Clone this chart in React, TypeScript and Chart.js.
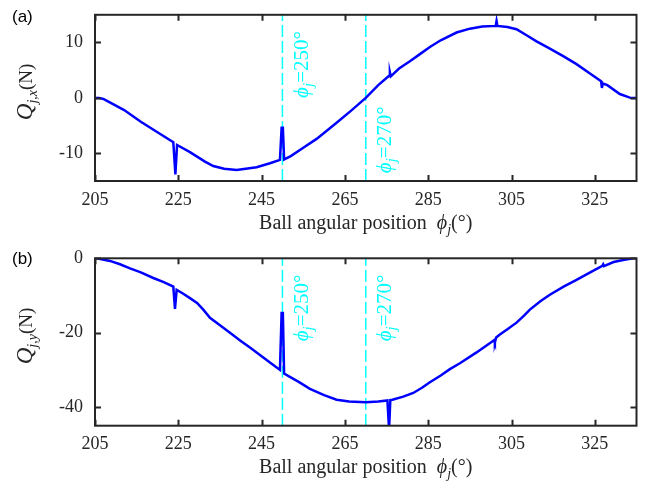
import React, { useEffect, useRef } from "react";
import { Chart, registerables } from "chart.js";

Chart.register(...registerables);

// ---------- data ----------
const xTicks = [205, 225, 245, 265, 285, 305, 325];
const xRange = [205, 335];

const phiX = [
  205, 206, 207, 209, 212, 216, 220, 223.8, 224.3, 224.7, 227.8, 231.4, 233.4, 236, 239, 243.8, 247, 249.4,
  249.8, 250.1, 250.4, 252, 255, 258.2, 263, 266.5, 270, 273, 275.6, 275.8, 276.0, 278, 280.6, 283, 285.4,
  288, 291.8, 295, 298, 301.2, 301.4, 301.6, 304, 306.2, 308.6, 311, 314.2, 317.5, 320.6, 324, 326.5, 326.7,
  326.9, 328, 331, 333.4, 334, 335,
];
const qx = [
  0, 0, -0.2, -1.0, -2.2, -4.3, -6.2, -8.0, -13.8, -8.5, -9.8, -11.5, -12.3, -12.8, -13.0, -12.5, -11.8, -11.2,
  -5.4, -5.4, -11.1, -10.5, -9.0, -7.4, -4.5, -2.3, 0, 2.3, 4.0, 4.6, 3.9, 5.3, 6.6, 7.9, 9.2,
  10.4, 11.8, 12.5, 12.9, 13.0, 13.9, 13.0, 12.8, 12.4, 11.3, 10.2, 8.9, 7.5, 6.1, 4.3, 3.0, 1.8,
  2.6, 2.3, 0.7, 0.05, 0, 0,
];
const qxTicks = [-10, 0, 10];
const qxRange = [-15, 15];

const phiY = [
  205, 206, 208.6, 211, 213.4, 216, 219, 221.5, 223.8, 224.2, 224.6, 226, 227.8, 229.5, 231, 232.6, 235, 237.4,
  240, 242.2, 245, 247, 249.4, 249.8, 250.1, 250.4, 252, 254, 256.6, 260, 263, 266, 270, 273, 275.2, 275.6,
  275.9, 276.4, 279, 281.4, 283.5, 285.4, 288, 290.2, 292.6, 296.6, 300.8, 301.0, 301.3, 302.2, 304, 306.2,
  308, 309.4, 312, 314.2, 317.5, 320.6, 324, 326.8, 327.0, 327.2, 329.5, 331.8, 334.2, 335,
];
const qy = [
  0, -0.1, -0.7, -1.6, -2.7, -3.8, -5.3, -6.4, -7.6, -13.6, -8.5, -9.4, -10.7, -12.0, -13.8, -16.0, -18.0, -20.0,
  -22.2, -24.0, -26.3, -28.0, -30.0, -14.7, -14.7, -31.0, -32.0, -33.3, -35.1, -36.8, -38.0, -38.5, -38.7, -38.5, -38.2, -46,
  -38.1, -38.0, -37.2, -36.2, -34.8, -33.3, -31.5, -29.8, -28.2, -25.3, -22.0, -22.7, -21.3, -20.5, -19.1, -17.3,
  -15.4, -13.8, -11.5, -9.8, -7.6, -5.8, -3.7, -2.0, -1.6, -2.1, -1.0, -0.45, 0, 0,
];
const qyTicks = [-40, -20, 0];
const qyRange = [-45, 0];

const markerPhi = [250, 270];
const markerText = ["=250°", "=270°"];
const labelAnchorQx = [0, -13.6];
const labelAnchorQy = [-22.3, -22.3];

// ---------- style ----------
const SERIF = "'Liberation Serif', 'Times New Roman', serif";
const SANS = "'Liberation Sans', Arial, sans-serif";
const AXIS = "#262626";
const CYAN = "#00FFFF";

type Part = { t: string; font: string; dy?: number };

function drawRich(ctx: CanvasRenderingContext2D, parts: Part[], x: number, y: number, center: boolean) {
  let total = 0;
  const ws = parts.map((p) => {
    ctx.font = p.font;
    const w = ctx.measureText(p.t).width;
    total += w;
    return w;
  });
  let cx = center ? x - total / 2 : x;
  parts.forEach((p, i) => {
    ctx.font = p.font;
    ctx.fillText(p.t, cx, y + (p.dy || 0));
    cx += ws[i];
  });
}

function makeConfig(o: {
  px: number[];
  vals: number[];
  yr: number[];
  yt: number[];
  sub: string;
  panel: string;
  anchors: number[];
  topPad: number;
  xAxisH: number;
}) {
  const data = o.px.map((x, i) => ({ x, y: o.vals[i] }));
  const markerSets = markerPhi.map((m) => ({
    data: [
      { x: m, y: o.yr[0] },
      { x: m, y: o.yr[1] },
    ],
    borderColor: CYAN,
    borderWidth: 1.5,
    borderDash: [12, 4],
    pointRadius: 0,
    fill: false,
  }));

  const decor = {
    id: "decor",
    beforeDatasetsDraw(chart: any) {
      const { ctx, scales } = chart;
      const xs = scales.x;
      const ys = scales.y;
      ctx.save();
      ctx.fillStyle = CYAN;
      ctx.textBaseline = "alphabetic";
      ctx.textAlign = "left";
      markerPhi.forEach((m, i) => {
        const px = xs.getPixelForValue(m) + 25.5;
        const py = ys.getPixelForValue(o.anchors[i]);
        ctx.save();
        ctx.translate(px, py);
        ctx.rotate(-Math.PI / 2);
        drawRich(
          ctx,
          [
            { t: "ϕ", font: `italic 21px ${SERIF}` },
            { t: "j", font: `italic 15px ${SERIF}`, dy: 5 },
            { t: markerText[i], font: `21px ${SERIF}` },
          ],
          0,
          0,
          false
        );
        ctx.restore();
      });
      ctx.restore();
    },
    afterDraw(chart: any) {
      const { ctx, chartArea: a, scales } = chart;
      const xs = scales.x;
      const ys = scales.y;
      ctx.save();
      ctx.strokeStyle = AXIS;
      ctx.lineWidth = 2;
      ctx.strokeRect(a.left, a.top, a.right - a.left, a.bottom - a.top);
      const tl = 6;
      ctx.beginPath();
      xs.ticks.forEach((t: any) => {
        const p = Math.round(xs.getPixelForValue(t.value)) + 0.5;
        ctx.moveTo(p, a.bottom);
        ctx.lineTo(p, a.bottom - tl);
        ctx.moveTo(p, a.top);
        ctx.lineTo(p, a.top + tl);
      });
      ys.ticks.forEach((t: any) => {
        const p = Math.round(ys.getPixelForValue(t.value)) + 0.5;
        ctx.moveTo(a.left, p);
        ctx.lineTo(a.left + tl, p);
        ctx.moveTo(a.right, p);
        ctx.lineTo(a.right - tl, p);
      });
      ctx.stroke();

      // x title
      ctx.fillStyle = AXIS;
      ctx.textBaseline = "alphabetic";
      ctx.textAlign = "left";
      drawRich(
        ctx,
        [
          { t: "Ball angular position  ", font: `20px ${SERIF}` },
          { t: "ϕ", font: `italic 20px ${SERIF}` },
          { t: "j", font: `italic 14px ${SERIF}`, dy: 5 },
          { t: "(°)", font: `20px ${SERIF}` },
        ],
        (a.left + a.right) / 2,
        a.bottom + 47.5,
        true
      );

      // y title
      ctx.save();
      ctx.translate(32, (a.top + a.bottom) / 2 - 6);
      ctx.rotate(-Math.PI / 2);
      drawRich(
        ctx,
        [
          { t: "Q", font: `italic 23px ${SERIF}` },
          { t: o.sub, font: `italic 14px ${SERIF}`, dy: 5 },
          { t: "(N)", font: `19px ${SERIF}` },
        ],
        0,
        0,
        true
      );
      ctx.restore();

      // panel letter
      ctx.fillStyle = "#000";
      ctx.font = `17px ${SANS}`;
      ctx.fillText(o.panel, 12, 22);
      ctx.restore();
    },
  };

  return {
    type: "line" as const,
    data: {
      datasets: [
        {
          data,
          borderColor: "#0000FF",
          borderWidth: 2.5,
          pointRadius: 0,
          tension: 0,
          fill: false,
        },
        ...markerSets,
      ],
    },
    options: {
      responsive: false,
      animation: false as const,
      devicePixelRatio: 1,
      layout: { padding: { left: 0, right: 15.5, top: o.topPad, bottom: 0 } },
      plugins: { legend: { display: false }, tooltip: { enabled: false }, title: { display: false } },
      scales: {
        x: {
          type: "linear" as const,
          min: xRange[0],
          max: xRange[1],
          grid: { display: false },
          border: { display: false },
          afterBuildTicks: (s: any) => {
            s.ticks = xTicks.map((v) => ({ value: v }));
          },
          afterFit: (s: any) => {
            s.height = o.xAxisH;
          },
          ticks: {
            color: AXIS,
            font: { family: SERIF, size: 18 },
            padding: 0,
            maxRotation: 0,
            autoSkip: false,
          },
        },
        y: {
          type: "linear" as const,
          min: o.yr[0],
          max: o.yr[1],
          grid: { display: false },
          border: { display: false },
          afterBuildTicks: (s: any) => {
            s.ticks = o.yt.map((v) => ({ value: v }));
          },
          afterFit: (s: any) => {
            s.width = 95;
          },
          ticks: {
            color: AXIS,
            font: { family: SERIF, size: 18 },
            padding: 4,
            autoSkip: false,
          },
        },
      },
    },
    plugins: [decor],
  };
}

export default function App() {
  const topRef = useRef<HTMLCanvasElement>(null);
  const botRef = useRef<HTMLCanvasElement>(null);

  useEffect(() => {
    const c1 = new Chart(
      topRef.current as HTMLCanvasElement,
      makeConfig({
        px: phiX,
        vals: qx,
        yr: qxRange,
        yt: qxTicks,
        sub: "j,x",
        panel: "(a)",
        anchors: labelAnchorQx,
        topPad: 13,
        xAxisH: 61,
      }) as any
    );
    const c2 = new Chart(
      botRef.current as HTMLCanvasElement,
      makeConfig({
        px: phiY,
        vals: qy,
        yr: qyRange,
        yt: qyTicks,
        sub: "j,y",
        panel: "(b)",
        anchors: labelAnchorQy,
        topPad: 16.3,
        xAxisH: 59.3,
      }) as any
    );
    return () => {
      c1.destroy();
      c2.destroy();
    };
  }, []);

  return (
    <div style={{ position: "absolute", left: 0, top: 0, width: 652, height: 485, background: "#fff" }}>
      <canvas ref={topRef} width={652} height={242} style={{ position: "absolute", left: 0, top: 0 }} />
      <canvas ref={botRef} width={652} height={243} style={{ position: "absolute", left: 0, top: 242 }} />
    </div>
  );
}
